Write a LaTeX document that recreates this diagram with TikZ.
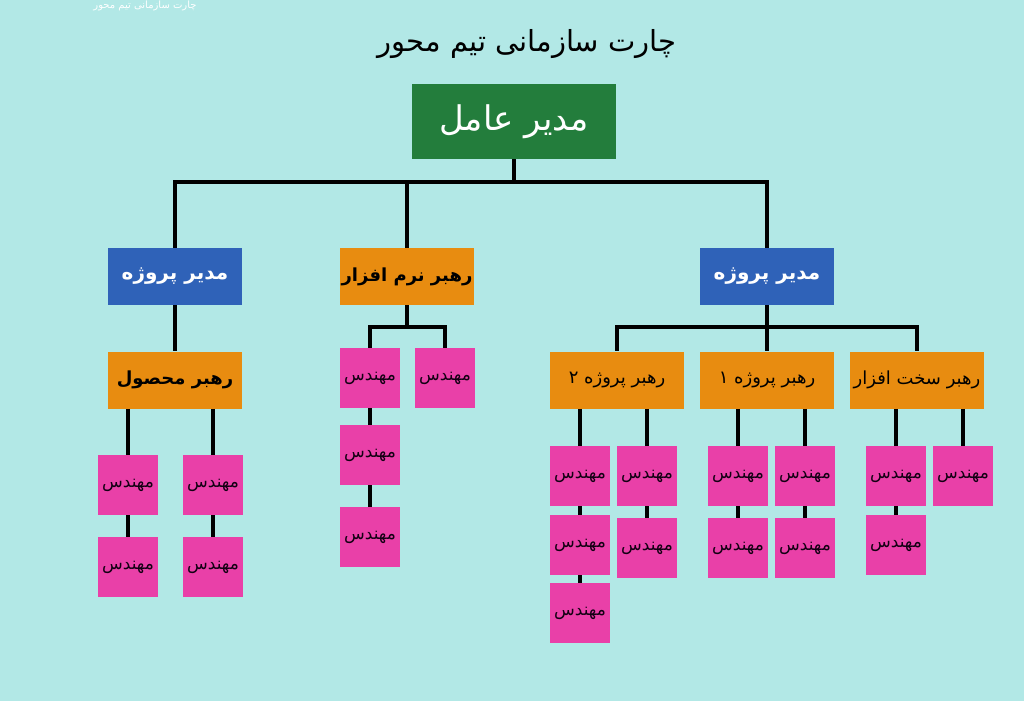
\documentclass[tikz,border=0pt]{standalone}
\usepackage{fontspec}
\newfontfamily\farsi[Script=Arabic]{DejaVu Sans}
\TeXXeTstate=1
\newcommand{\fa}[1]{\farsi\beginR #1\endR}
\newcommand{\eng}{\fa{مهندس}}

\definecolor{bgcyan}{HTML}{B2E8E6}
\definecolor{ceogreen}{HTML}{237D3C}
\definecolor{pmblue}{HTML}{2F62B8}
\definecolor{leadorange}{HTML}{E88C10}
\definecolor{engpink}{HTML}{E940A8}

\tikzset{
  box/.style={rectangle, inner sep=0pt, align=center},
  ceobox/.style={box, fill=ceogreen, text=white, minimum width=102pt, minimum height=37.5pt, font=\fontsize{17}{19}\selectfont},
  pmbox/.style={box, fill=pmblue, text=white, minimum width=67pt, minimum height=28.5pt, font=\bfseries\fontsize{10}{12}\selectfont},
  leadbox/.style={box, fill=leadorange, text=black, minimum width=67pt, minimum height=28.5pt, font=\bfseries\fontsize{9}{11}\selectfont},
  engbox/.style={box, fill=engpink, text=black!85!violet, minimum width=30pt, minimum height=30pt, font=\fontsize{8.5}{10}\selectfont},
  link/.style={draw=black, line width=2pt}
}

\begin{document}
\begin{tikzpicture}[x=0.5pt, y=-0.5pt]
    % Background
    \fill[bgcyan] (0,0) rectangle (1024,701);
    \useasboundingbox (0,0) rectangle (1024,701);

    % Titles
    \node[text=white, font=\fontsize{5}{6}\selectfont, inner sep=0pt] (mark) at (145,6) {\fa{چارت سازمانی تیم محور}};
    \node[font=\fontsize{14.5}{17}\selectfont] (title) at (527,44) {\fa{چارت سازمانی تیم محور}};

    % Top levels
    \node[ceobox] (ceo) at (514,121.5) {\fa{مدیر عامل}};
    \node[pmbox] (pmL) at (175,276.5) {\fa{مدیر پروژه}};
    \node[leadbox] (sl) at (407,276.5) {\fa{رهبر نرم افزار}};
    \node[pmbox] (pmR) at (767,276.5) {\fa{مدیر پروژه}};

    % Leads
    \node[leadbox] (pl) at (175,380) {\fa{رهبر محصول}};
    \node[leadbox, font=\fontsize{9}{11}\selectfont] (pj2) at (617,380) {\fa{رهبر پروژه ۲}};
    \node[leadbox, font=\fontsize{9}{11}\selectfont] (pj1) at (767,380) {\fa{رهبر پروژه ۱}};
    \node[leadbox, font=\fontsize{9}{11}\selectfont] (hw) at (917,380) {\fa{رهبر سخت افزار}};

    % Engineers
    \foreach \name/\x/\y in {plA1/128/485, plA2/128/567, plB1/213/485, plB2/213/567,
        slA1/370/378, slA2/370/455, slA3/370/537, slB1/445/378,
        pjbA1/580/476, pjbA2/580/545, pjbA3/580/613, pjbB1/647/476, pjbB2/647/548,
        pjaA1/738/476, pjaA2/738/548, pjaB1/805/476, pjaB2/805/548,
        hwA1/896/476, hwA2/896/545, hwB1/963/476}
      \node[engbox] (\name) at (\x,\y) {\eng};

    % Buses
    \coordinate (ceoBus) at (514,182);
    \coordinate (slBus) at (407,327);
    \coordinate (pmBus) at (767,327);

    % Connectors
    \draw[link] (ceo.south) -- (ceoBus);
    \draw[link] (ceoBus) -| (pmL.north);
    \draw[link] (ceoBus) -| (sl.north);
    \draw[link] (ceoBus) -| (pmR.north);

    \draw[link] (pmL) -- (pl);
    \draw[link] (sl.south) -- (slBus);
    \draw[link] (slBus) -| (slA1.north);
    \draw[link] (slBus) -| (slB1.north);
    \draw[link] (pmR.south) -- (pmBus);
    \draw[link] (pmBus) -| (pj2.north);
    \draw[link] (pmBus) -- (pj1.north);
    \draw[link] (pmBus) -| (hw.north);

    \foreach \lead/\e in {pl/plA1, pl/plB1, pj2/pjbA1, pj2/pjbB1, pj1/pjaA1, pj1/pjaB1, hw/hwA1, hw/hwB1}
      \draw[link] (\lead.south -| \e.north) -- (\e.north);
    \foreach \a/\b in {plA1/plA2, plB1/plB2, slA1/slA2, slA2/slA3, pjbA1/pjbA2, pjbA2/pjbA3,
        pjbB1/pjbB2, pjaA1/pjaA2, pjaB1/pjaB2, hwA1/hwA2}
      \draw[link] (\a.south) -- (\b.north);
\end{tikzpicture}
\end{document}
